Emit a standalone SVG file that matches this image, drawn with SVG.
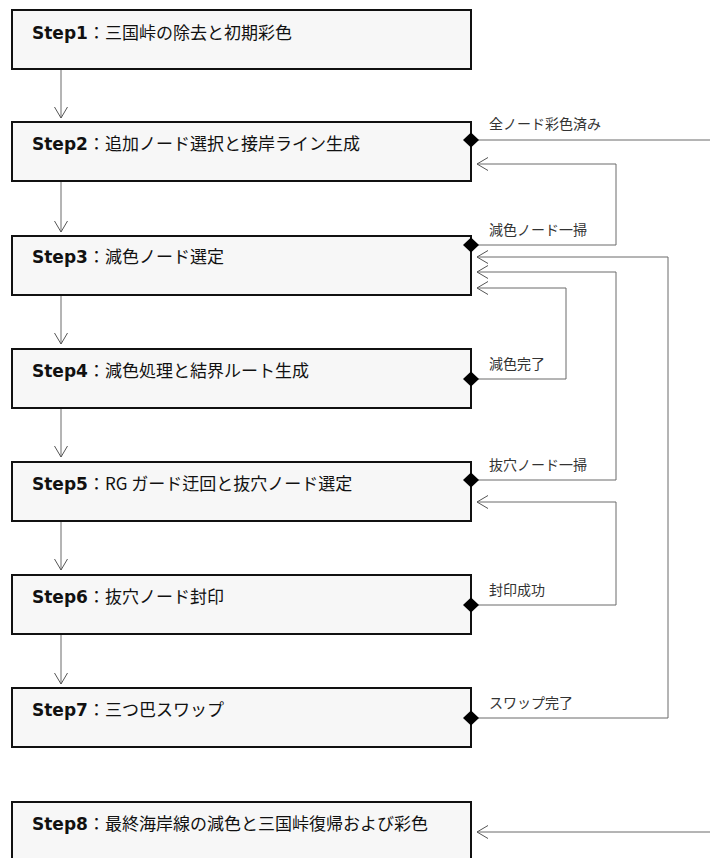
<svg xmlns="http://www.w3.org/2000/svg" width="710" height="858" viewBox="0 0 710 858">
<style>
.box{fill:#f7f7f7;stroke:#111;stroke-width:2}
.t{font-family:"Noto Sans CJK JP","Noto Sans",sans-serif;font-size:17px;fill:#111}
.b{font-family:"DejaVu Sans",sans-serif;font-weight:bold}
.lbl{font-family:"Noto Sans CJK JP","Noto Sans",sans-serif;font-size:14px;fill:#333}
.c{fill:none;stroke:#6b6b6b;stroke-width:1}
</style>
<defs>
<marker id="arr" markerUnits="userSpaceOnUse" markerWidth="14" markerHeight="16" refX="12" refY="8" orient="auto">
<path d="M1,1.5 L12,8 L1,14.5" fill="none" stroke="#555" stroke-width="1"/>
</marker>
<marker id="dia" markerUnits="userSpaceOnUse" markerWidth="18" markerHeight="16" refX="9" refY="8" orient="auto">
<path d="M1,8 L9,0.5 L17,8 L9,15.5 Z" fill="#000"/>
</marker>
</defs>
<g id="step1"><rect class="box" x="12" y="10" width="459" height="59"/><text class="t" x="32" y="39"><tspan class="b">Step1</tspan>：三国峠の除去と初期彩色</text></g>
<g id="step2"><rect class="box" x="12" y="122" width="459" height="59"/><text class="t" x="32" y="150"><tspan class="b">Step2</tspan>：追加ノード選択と接岸ライン生成</text></g>
<g id="step3"><rect class="box" x="12" y="236" width="459" height="59"/><text class="t" x="32" y="263"><tspan class="b">Step3</tspan>：減色ノード選定</text></g>
<g id="step4"><rect class="box" x="12" y="349" width="459" height="59"/><text class="t" x="32" y="377"><tspan class="b">Step4</tspan>：減色処理と結界ルート生成</text></g>
<g id="step5"><rect class="box" x="12" y="462" width="459" height="59"/><text class="t" x="32" y="490"><tspan class="b">Step5</tspan>：RG ガード迂回と抜穴ノード選定</text></g>
<g id="step6"><rect class="box" x="12" y="575" width="459" height="59"/><text class="t" x="32" y="603"><tspan class="b">Step6</tspan>：抜穴ノード封印</text></g>
<g id="step7"><rect class="box" x="12" y="688" width="459" height="59"/><text class="t" x="32" y="716"><tspan class="b">Step7</tspan>：三つ巴スワップ</text></g>
<g id="step8"><rect class="box" x="12" y="802" width="459" height="59"/><text class="t" x="32" y="830"><tspan class="b">Step8</tspan>：最終海岸線の減色と三国峠復帰および彩色</text></g>
<g id="connectors">
<path class="c" d="M61,70 V118" marker-end="url(#arr)"/>
<path class="c" d="M61,182 V232" marker-end="url(#arr)"/>
<path class="c" d="M61,296 V344" marker-end="url(#arr)"/>
<path class="c" d="M61,409 V457" marker-end="url(#arr)"/>
<path class="c" d="M61,522 V570" marker-end="url(#arr)"/>
<path class="c" d="M61,635 V684" marker-end="url(#arr)"/>
<path class="c" d="M471,140 H710" marker-start="url(#dia)"/>
<path class="c" d="M471,245 H616 V164 H477" marker-start="url(#dia)" marker-end="url(#arr)"/>
<path class="c" d="M471,379 H566 V288 H477" marker-start="url(#dia)" marker-end="url(#arr)"/>
<path class="c" d="M471,480 H616 V272 H477" marker-start="url(#dia)" marker-end="url(#arr)"/>
<path class="c" d="M471,605 H616 V502 H477" marker-start="url(#dia)" marker-end="url(#arr)"/>
<path class="c" d="M471,718 H668 V257 H477" marker-start="url(#dia)" marker-end="url(#arr)"/>
<path class="c" d="M710,832 H477" marker-end="url(#arr)"/>
<text class="lbl" x="489" y="129">全ノード彩色済み</text>
<text class="lbl" x="489" y="235">減色ノード一掃</text>
<text class="lbl" x="489" y="369">減色完了</text>
<text class="lbl" x="489" y="470">抜穴ノード一掃</text>
<text class="lbl" x="489" y="595">封印成功</text>
<text class="lbl" x="489" y="708">スワップ完了</text>
</g>
</svg>
